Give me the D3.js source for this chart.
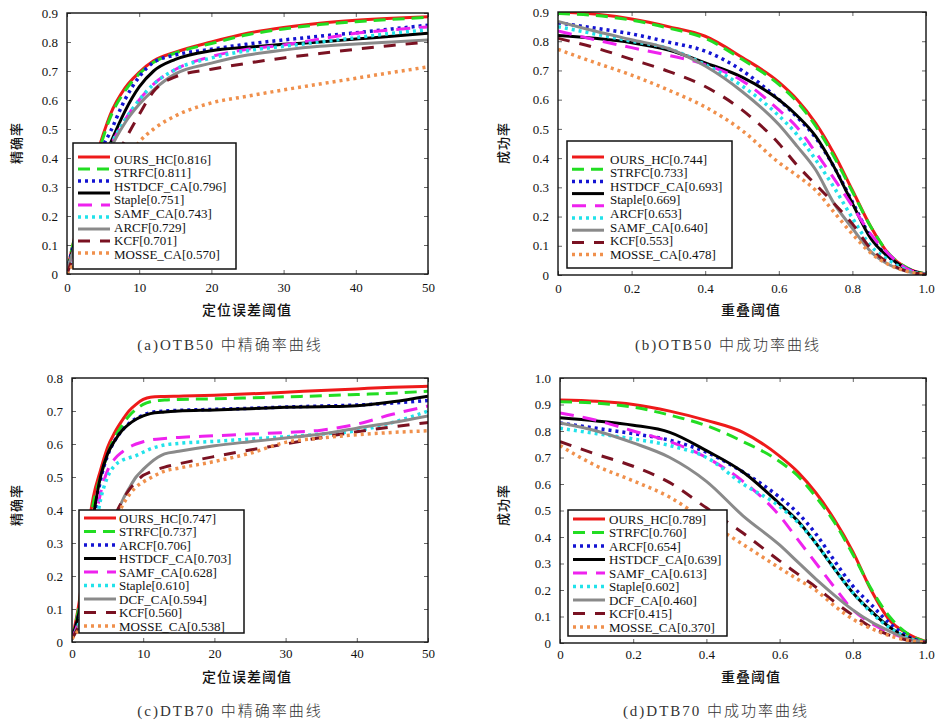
<!DOCTYPE html>
<html>
<head>
<meta charset="utf-8">
<script src="https://cdn.jsdelivr.net/npm/d3@7"></script>
<style>
body { margin: 0; background: #fff; }
</style>
</head>
<body>
<script>
// ---- data ----
var precXA = [0,1,2,3,4,5,6,8,10,12,15,20,25,30,35,40,45,50];
var precA = [
  [0.01,0.12,0.22,0.31,0.40,0.48,0.55,0.64,0.695,0.735,0.765,0.80,0.83,0.85,0.865,0.875,0.882,0.887],
  [0.01,0.12,0.21,0.30,0.39,0.47,0.54,0.63,0.69,0.73,0.762,0.795,0.825,0.845,0.86,0.87,0.878,0.885],
  [0.01,0.11,0.20,0.28,0.36,0.44,0.49,0.60,0.68,0.73,0.755,0.775,0.793,0.807,0.82,0.832,0.845,0.858],
  [0.01,0.10,0.18,0.26,0.33,0.39,0.45,0.56,0.645,0.70,0.74,0.77,0.782,0.792,0.80,0.81,0.82,0.83],
  [0.01,0.09,0.17,0.25,0.32,0.38,0.44,0.53,0.60,0.655,0.705,0.75,0.775,0.79,0.81,0.83,0.842,0.852],
  [0.01,0.09,0.17,0.25,0.32,0.38,0.44,0.53,0.60,0.655,0.705,0.745,0.77,0.785,0.80,0.815,0.83,0.842],
  [0.01,0.09,0.16,0.24,0.31,0.37,0.43,0.52,0.585,0.635,0.69,0.727,0.755,0.772,0.785,0.793,0.80,0.807],
  [0.00,0.07,0.14,0.20,0.25,0.30,0.36,0.46,0.55,0.63,0.68,0.706,0.727,0.745,0.76,0.775,0.788,0.80],
  [0.00,0.04,0.09,0.15,0.20,0.25,0.30,0.38,0.455,0.50,0.545,0.59,0.613,0.635,0.655,0.675,0.695,0.714]
];
var labelsA = ['OURS_HC[0.816]','STRFC[0.811]','HSTDCF_CA[0.796]','Staple[0.751]','SAMF_CA[0.743]','ARCF[0.729]','KCF[0.701]','MOSSE_CA[0.570]'];

var succX = [0,0.1,0.2,0.3,0.4,0.5,0.6,0.65,0.7,0.75,0.8,0.85,0.9,0.95,1.0];
var succB = [
  [0.90,0.893,0.876,0.85,0.817,0.745,0.66,0.60,0.52,0.415,0.29,0.165,0.07,0.023,0.003],
  [0.895,0.888,0.872,0.845,0.81,0.738,0.652,0.592,0.51,0.405,0.285,0.165,0.072,0.024,0.003],
  [0.863,0.845,0.825,0.797,0.766,0.70,0.60,0.54,0.47,0.37,0.25,0.13,0.06,0.02,0.002],
  [0.82,0.81,0.795,0.77,0.726,0.677,0.60,0.545,0.475,0.37,0.245,0.125,0.06,0.02,0.002],
  [0.835,0.805,0.778,0.752,0.72,0.665,0.565,0.505,0.42,0.33,0.235,0.14,0.07,0.02,0.002],
  [0.85,0.825,0.80,0.775,0.72,0.647,0.545,0.48,0.395,0.30,0.195,0.10,0.05,0.015,0.002],
  [0.868,0.835,0.805,0.775,0.715,0.628,0.515,0.44,0.36,0.245,0.16,0.08,0.035,0.012,0.002],
  [0.81,0.778,0.738,0.697,0.645,0.565,0.45,0.375,0.31,0.245,0.175,0.09,0.04,0.012,0.002],
  [0.772,0.727,0.684,0.633,0.575,0.495,0.385,0.34,0.29,0.215,0.14,0.075,0.035,0.012,0.002]
];
var labelsB = ['OURS_HC[0.744]','STRFC[0.733]','HSTDCF_CA[0.693]','Staple[0.669]','ARCF[0.653]','SAMF_CA[0.640]','KCF[0.553]','MOSSE_CA[0.478]'];

var precXC = [0,1,2,3,4,5,6,7,8,9,10,11,13,15,20,25,30,35,40,45,50];
var precC = [
  [0.01,0.12,0.30,0.44,0.52,0.59,0.635,0.67,0.70,0.72,0.735,0.742,0.744,0.745,0.748,0.752,0.757,0.762,0.767,0.772,0.775],
  [0.01,0.11,0.28,0.42,0.50,0.57,0.62,0.655,0.685,0.705,0.72,0.728,0.733,0.735,0.737,0.74,0.743,0.746,0.75,0.754,0.76],
  [0.01,0.09,0.22,0.36,0.49,0.565,0.61,0.64,0.662,0.677,0.688,0.695,0.70,0.702,0.705,0.708,0.712,0.715,0.718,0.724,0.732],
  [0.01,0.09,0.22,0.38,0.50,0.57,0.61,0.64,0.66,0.675,0.685,0.692,0.697,0.70,0.703,0.707,0.711,0.713,0.716,0.728,0.745],
  [0.01,0.07,0.18,0.33,0.45,0.52,0.555,0.575,0.59,0.60,0.607,0.612,0.617,0.62,0.625,0.63,0.635,0.642,0.66,0.69,0.715],
  [0.01,0.06,0.16,0.30,0.43,0.50,0.535,0.55,0.558,0.565,0.575,0.585,0.597,0.602,0.608,0.615,0.622,0.63,0.64,0.665,0.70],
  [0.01,0.05,0.10,0.16,0.22,0.30,0.37,0.425,0.465,0.50,0.523,0.543,0.57,0.578,0.595,0.607,0.618,0.63,0.648,0.665,0.685],
  [0.01,0.05,0.10,0.16,0.23,0.31,0.38,0.425,0.46,0.485,0.505,0.515,0.53,0.54,0.562,0.582,0.60,0.62,0.637,0.652,0.665],
  [0.01,0.04,0.09,0.15,0.22,0.29,0.36,0.41,0.445,0.47,0.485,0.497,0.518,0.527,0.547,0.572,0.605,0.618,0.628,0.635,0.64]
];
var labelsC = ['OURS_HC[0.747]','STRFC[0.737]','ARCF[0.706]','HSTDCF_CA[0.703]','SAMF_CA[0.628]','Staple[0.610]','DCF_CA[0.594]','KCF[0.560]','MOSSE_CA[0.538]'];

var succD = [
  [0.917,0.912,0.90,0.875,0.84,0.795,0.705,0.645,0.565,0.465,0.345,0.20,0.087,0.035,0.005],
  [0.91,0.905,0.89,0.86,0.82,0.76,0.685,0.63,0.55,0.455,0.335,0.205,0.10,0.035,0.004],
  [0.83,0.81,0.79,0.765,0.72,0.645,0.55,0.49,0.41,0.31,0.215,0.145,0.075,0.025,0.002],
  [0.85,0.838,0.822,0.795,0.726,0.645,0.525,0.46,0.375,0.28,0.19,0.12,0.06,0.02,0.002],
  [0.868,0.84,0.80,0.76,0.70,0.61,0.48,0.39,0.30,0.21,0.125,0.075,0.04,0.015,0.002],
  [0.81,0.79,0.77,0.745,0.70,0.60,0.515,0.455,0.375,0.28,0.19,0.115,0.058,0.02,0.002],
  [0.83,0.80,0.755,0.70,0.61,0.48,0.37,0.305,0.24,0.18,0.125,0.08,0.045,0.015,0.002],
  [0.76,0.712,0.667,0.605,0.51,0.415,0.31,0.26,0.21,0.155,0.105,0.06,0.03,0.01,0.002],
  [0.745,0.668,0.612,0.55,0.46,0.372,0.283,0.24,0.198,0.14,0.09,0.055,0.028,0.01,0.002]
];
var labelsD = ['OURS_HC[0.789]','STRFC[0.760]','ARCF[0.654]','HSTDCF_CA[0.639]','SAMF_CA[0.613]','Staple[0.602]','DCF_CA[0.460]','KCF[0.415]','MOSSE_CA[0.370]'];

var precTicksX = [0,10,20,30,40,50];
var succTicksX = [0,0.2,0.4,0.6,0.8,1.0];

// line styles, same order in every panel
var styles = [
  {color:'#ee1a1a', dash:null,   w:3},
  {color:'#22dd22', dash:'12,7', w:3},
  {color:'#1414d2', dash:'3,4',  w:3.5},
  {color:'#000000', dash:null,   w:3},
  {color:'#ee22ee', dash:'14,9', w:3},
  {color:'#22e2ea', dash:'3,4',  w:3.5},
  {color:'#8a8a8a', dash:null,   w:3},
  {color:'#7a1222', dash:'12,10',w:3},
  {color:'#f0904c', dash:'3,4',  w:3.5}
];

var svg = d3.select('body').append('svg')
  .attr('width', 942).attr('height', 724);

function fmt1(v) { return v === 0 ? '0' : v.toFixed(1); }

function draw_panel(p) {
  var g = svg.append('g');
  var xScale = d3.scaleLinear().domain(p.xDomain).range([p.left, p.right]);
  var yScale = d3.scaleLinear().domain(p.yDomain).range([p.bottom, p.top]);

  var clipId = 'clip' + p.id;
  svg.append('clipPath').attr('id', clipId).append('rect')
    .attr('x', p.left).attr('y', p.top)
    .attr('width', p.right - p.left).attr('height', p.bottom - p.top);

  // inner ticks on all four sides
  function plain(a) { a.select('.domain').remove(); a.selectAll('line').attr('stroke', '#666'); }
  g.append('g').attr('transform', 'translate(0,' + p.bottom + ')')
    .call(d3.axisTop(xScale).tickValues(p.xTicks).tickSize(4).tickFormat('')).call(plain);
  g.append('g').attr('transform', 'translate(0,' + p.top + ')')
    .call(d3.axisBottom(xScale).tickValues(p.xTicks).tickSize(4).tickFormat('')).call(plain);
  g.append('g').attr('transform', 'translate(' + p.left + ',0)')
    .call(d3.axisRight(yScale).tickValues(p.yTicks).tickSize(4).tickFormat('')).call(plain);
  g.append('g').attr('transform', 'translate(' + p.right + ',0)')
    .call(d3.axisLeft(yScale).tickValues(p.yTicks).tickSize(4).tickFormat('')).call(plain);

  // tick labels
  function lbl(a) {
    a.select('.domain').remove();
    a.selectAll('text').attr('font-family', 'Liberation Serif, serif').attr('font-size', 13).attr('fill', '#111');
  }
  g.append('g').attr('transform', 'translate(0,' + p.bottom + ')')
    .call(d3.axisBottom(xScale).tickValues(p.xTicks).tickSize(0).tickPadding(p.xPad).tickFormat(p.xFmt)).call(lbl);
  g.append('g').attr('transform', 'translate(' + p.left + ',0)')
    .call(d3.axisLeft(yScale).tickValues(p.yTicks).tickSize(0).tickPadding(9).tickFormat(fmt1)).call(lbl);

  // curves
  var line = d3.line()
    .x(function(d){ return xScale(d[0]); })
    .y(function(d){ return yScale(d[1]); })
    .curve(d3.curveMonotoneX);
  var curves = g.append('g').attr('clip-path', 'url(#' + clipId + ')');
  p.series.forEach(function(vals, i) {
    var pts = p.xs.map(function(x, j){ return [x, vals[j]]; });
    var st = styles[i];
    curves.append('path')
      .attr('d', line(pts))
      .attr('fill', 'none')
      .attr('stroke', st.color)
      .attr('stroke-width', st.w)
      .attr('stroke-dasharray', st.dash);
  });

  // frame
  g.append('rect')
    .attr('x', p.left).attr('y', p.top)
    .attr('width', p.right - p.left).attr('height', p.bottom - p.top)
    .attr('fill', 'none').attr('stroke', '#111').attr('stroke-width', 1.4);

  // legend
  var L = p.legend;
  var lg = g.append('g');
  lg.append('rect')
    .attr('x', L.x).attr('y', L.y).attr('width', L.w).attr('height', L.h)
    .attr('fill', '#fff').attr('stroke', '#111').attr('stroke-width', 1.5);
  styles.forEach(function(st, i) {
    var yy = L.y + L.sy0 + i * L.sstep;
    lg.append('line')
      .attr('x1', L.x + 5).attr('x2', L.x + 37)
      .attr('y1', yy).attr('y2', yy)
      .attr('stroke', st.color).attr('stroke-width', st.w)
      .attr('stroke-dasharray', st.dash);
  });
  p.labels.forEach(function(t, i) {
    lg.append('text')
      .attr('x', L.x + L.tx).attr('y', L.y + L.ly0 + i * L.lstep)
      .attr('dominant-baseline', 'central')
      .attr('font-family', 'Liberation Serif, serif').attr('font-size', 13)
      .attr('fill', '#111')
      .text(t);
  });

  // titles
  g.append('text')
    .attr('x', p.xTitle[1]).attr('y', p.xTitle[2])
    .attr('text-anchor', 'middle').attr('dominant-baseline', 'central')
    .attr('font-family', 'Noto Sans CJK SC').attr('font-size', 14).attr('font-weight', 500)
    .attr('letter-spacing', 1).attr('fill', '#111')
    .text(p.xTitle[0]);
  g.append('text')
    .attr('transform', 'translate(' + p.yTitle[1] + ',' + p.yTitle[2] + ') rotate(-90)')
    .attr('text-anchor', 'middle').attr('dominant-baseline', 'central')
    .attr('font-family', 'Noto Sans CJK SC').attr('font-size', 13).attr('font-weight', 500)
    .attr('letter-spacing', 1).attr('fill', '#111')
    .text(p.yTitle[0]);
  g.append('text')
    .attr('x', p.caption[1]).attr('y', p.caption[2])
    .attr('text-anchor', 'middle').attr('dominant-baseline', 'central')
    .attr('font-family', "'Liberation Serif', 'Noto Sans CJK SC'").attr('font-size', 15).attr('font-weight', 300)
    .attr('letter-spacing', 2).attr('fill', '#333')
    .text(p.caption[0]);
}

draw_panel({
  id: 'a', left: 67, right: 428, top: 13, bottom: 274,
  xDomain: [0, 50], yDomain: [0, 0.9],
  xTicks: precTicksX, yTicks: d3.range(0, 0.95, 0.1), xFmt: d3.format('d'), xPad: 9,
  xs: precXA, series: precA, labels: labelsA,
  legend: {x: 73, y: 143, w: 163, h: 126, sy0: 14, sstep: 12, ly0: 16, lstep: 13.6, tx: 41},
  xTitle: ['定位误差阈值', 247, 309], yTitle: ['精确率', 15, 143],
  caption: ['(a)OTB50 中精确率曲线', 230, 345]
});
draw_panel({
  id: 'b', left: 558, right: 926, top: 12, bottom: 275,
  xDomain: [0, 1], yDomain: [0, 0.9],
  xTicks: succTicksX, yTicks: d3.range(0, 0.95, 0.1), xFmt: fmt1, xPad: 9,
  xs: succX, series: succB, labels: labelsB,
  legend: {x: 567, y: 141, w: 165, h: 127, sy0: 16, sstep: 12.2, ly0: 18, lstep: 13.6, tx: 43},
  xTitle: ['重叠阈值', 751, 309], yTitle: ['成功率', 502, 143],
  caption: ['(b)OTB50 中成功率曲线', 728, 345]
});
draw_panel({
  id: 'c', left: 72, right: 428, top: 378, bottom: 642,
  xDomain: [0, 50], yDomain: [0, 0.8],
  xTicks: precTicksX, yTicks: d3.range(0, 0.85, 0.1), xFmt: d3.format('d'), xPad: 7,
  xs: precXC, series: precC, labels: labelsC,
  legend: {x: 79, y: 510, w: 165, h: 123, sy0: 8, sstep: 13.5, ly0: 8, lstep: 13.5, tx: 40},
  xTitle: ['定位误差阈值', 247, 676], yTitle: ['精确率', 15, 505],
  caption: ['(c)DTB70 中精确率曲线', 230, 711]
});
draw_panel({
  id: 'd', left: 560, right: 926, top: 378, bottom: 643,
  xDomain: [0, 1], yDomain: [0, 1.0],
  xTicks: succTicksX, yTicks: d3.range(0, 1.05, 0.1), xFmt: fmt1, xPad: 7,
  xs: succX, series: succD, labels: labelsD,
  legend: {x: 568, y: 510, w: 159, h: 126, sy0: 9, sstep: 13.5, ly0: 9, lstep: 13.5, tx: 41},
  xTitle: ['重叠阈值', 751, 676], yTitle: ['成功率', 502, 505],
  caption: ['(d)DTB70 中成功率曲线', 716, 711]
});
</script>
</body>
</html>
